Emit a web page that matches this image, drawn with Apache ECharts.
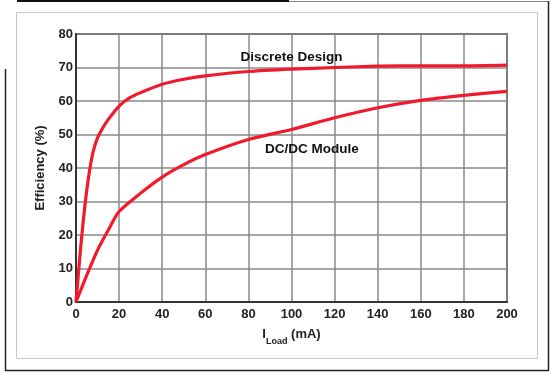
<!DOCTYPE html>
<html><head><meta charset="utf-8">
<script src="https://cdn.jsdelivr.net/npm/echarts@6/dist/echarts.min.js"></script>
<style>html,body{margin:0;padding:0;background:#fff}#c{width:554px;height:376px}</style>
</head><body><div id="c"></div>
<script>
var xTicks = [0,20,40,60,80,100,120,140,160,180,200];
var yTicks = [0,10,20,30,40,50,60,70,80];
var discreteX = [0,2,4,6,8,10,12,15,20,25,30,40,50,60,80,100,120,140,160,180,200];
var discreteY = [0,15,28,38,45,49,51.5,54.5,58.5,61,62.5,65,66.5,67.5,68.8,69.5,70,70.4,70.5,70.5,70.7];
var moduleX = [0,5,10,15,20,30,40,50,60,80,100,120,140,160,180,200];
var moduleY = [0,8,15.5,21.5,27,32.5,37.3,41,44,48.5,51.5,55,58,60.2,61.7,62.9];
var seriesNames = ['Discrete Design','DC/DC Module'];
var labelAt = [[100,73.1],[109.5,45.7]];

function pairs(xs, ys){ return xs.map(function(x,i){return [x, ys[i]];}); }
var RED = '#f01a2c';
var FONT = 'Liberation Sans, Arial, sans-serif';
function mp(i){
  return {symbol:'rect',symbolSize:1,itemStyle:{color:'rgba(0,0,0,0)'},
    label:{show:true,position:'inside',formatter:seriesNames[i],color:'#111',fontFamily:FONT,fontSize:13.5,fontWeight:'bold'},
    data:[{coord:labelAt[i]}]};
}
var chart = echarts.init(document.getElementById('c'), null, {renderer:'canvas'});
chart.setOption({
  animation:false,
  backgroundColor:'#fff',
  grid:{left:76,right:47,top:34,bottom:74,show:true,borderColor:'#555',borderWidth:2,backgroundColor:'transparent'},
  graphic:[
    {type:'rect',shape:{x:16.5,y:12.5,width:521,height:346},style:{fill:'none',stroke:'#c8c8c8',lineWidth:1}},
    {type:'line',shape:{x1:17,y1:1,x2:289,y2:1},style:{stroke:'#111',lineWidth:2}},
    {type:'line',shape:{x1:289,y1:1.5,x2:549,y2:1.5},style:{stroke:'#888',lineWidth:1}},
    {type:'line',shape:{x1:548.5,y1:1,x2:548.5,y2:370.5},style:{stroke:'#222',lineWidth:1.5}},
    {type:'line',shape:{x1:5,y1:370.5,x2:549,y2:370.5},style:{stroke:'#222',lineWidth:1.5}},
    {type:'line',shape:{x1:5.5,y1:69,x2:5.5,y2:371},style:{stroke:'#222',lineWidth:1.5}}
  ],
  xAxis:{type:'value',min:0,max:200,interval:20,
    name:'{a|I}{s|Load}{a| (mA)}',nameLocation:'middle',nameGap:26,
    nameTextStyle:{rich:{
      a:{fontFamily:FONT,fontSize:13,fontWeight:'bold',color:'#222',lineHeight:18,verticalAlign:'top'},
      s:{fontFamily:FONT,fontSize:9,fontWeight:'bold',color:'#222',lineHeight:18,verticalAlign:'bottom',padding:[8,0,0,0]}
    }},
    axisLine:{show:true,lineStyle:{color:'#333',width:2}},axisTick:{show:false},
    axisLabel:{color:'#222',fontFamily:FONT,fontSize:13,fontWeight:'bold',margin:6,
      formatter:function(v){return xTicks.indexOf(v)>=0?String(v):'';}},
    splitLine:{show:true,lineStyle:{color:'#8a8a8a',width:1.5}}
  },
  yAxis:{type:'value',min:0,max:80,interval:10,
    name:'Efficiency (%)',nameLocation:'middle',nameGap:29,
    nameTextStyle:{fontFamily:FONT,fontSize:13,fontWeight:'bold',color:'#222'},
    axisLine:{show:true,lineStyle:{color:'#333',width:2}},axisTick:{show:false},
    axisLabel:{color:'#222',fontFamily:FONT,fontSize:13,fontWeight:'bold',margin:3,
      formatter:function(v){return yTicks.indexOf(v)>=0?String(v):'';}},
    splitLine:{show:true,lineStyle:{color:'#8a8a8a',width:1.5}}
  },
  series:[
    {name:seriesNames[0],type:'line',data:pairs(discreteX,discreteY),smooth:0.25,symbol:'none',
      lineStyle:{color:RED,width:3.2},markPoint:mp(0)},
    {name:seriesNames[1],type:'line',data:pairs(moduleX,moduleY),smooth:0.25,symbol:'none',
      lineStyle:{color:RED,width:3.2},markPoint:mp(1)}
  ]
});
</script></body></html>
